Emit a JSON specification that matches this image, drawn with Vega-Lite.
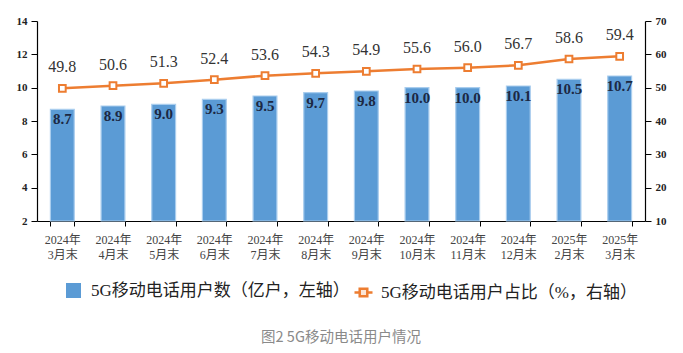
{
  "$schema": "https://vega.github.io/schema/vega-lite/v6.json",
  "width": 608,
  "height": 200,
  "autosize": "none",
  "padding": {"left": 37, "top": 21, "right": 38, "bottom": 132},
  "background": "white",
  "title": {
    "text": "图2 5G移动电话用户情况",
    "orient": "bottom",
    "anchor": "middle",
    "offset": 29,
    "baseline": "top",
    "font": "Noto Sans CJK SC",
    "fontSize": 14.5,
    "fontWeight": "normal",
    "color": "#8a8a8a"
  },
  "config": {
    "view": {"stroke": null},
    "axis": {"grid": false, "domainColor": "#000000", "tickColor": "#000000", "domainWidth": 1.2, "tickSize": 6}
  },
  "data": {
    "values": [
      {"m": "2024年|3月末", "users": 8.7, "pct": 49.8},
      {"m": "2024年|4月末", "users": 8.9, "pct": 50.6},
      {"m": "2024年|5月末", "users": 9.0, "pct": 51.3},
      {"m": "2024年|6月末", "users": 9.3, "pct": 52.4},
      {"m": "2024年|7月末", "users": 9.5, "pct": 53.6},
      {"m": "2024年|8月末", "users": 9.7, "pct": 54.3},
      {"m": "2024年|9月末", "users": 9.8, "pct": 54.9},
      {"m": "2024年|10月末", "users": 10.0, "pct": 55.6},
      {"m": "2024年|11月末", "users": 10.0, "pct": 56.0},
      {"m": "2024年|12月末", "users": 10.1, "pct": 56.7},
      {"m": "2025年|2月末", "users": 10.5, "pct": 58.6},
      {"m": "2025年|3月末", "users": 10.7, "pct": 59.4}
    ]
  },
  "encoding": {
    "x": {
      "field": "m",
      "type": "nominal",
      "sort": null,
      "title": null,
      "scale": {"paddingInner": 0.53, "paddingOuter": 0.265},
      "axis": {
        "labelExpr": "isValid(datum.value) ? split(datum.value, '|') : ''",
        "labelAngle": 0,
        "tickBand": "extent",
        "tickSize": 5,
        "labelPadding": 8,
        "labelFont": "Liberation Serif, Noto Sans CJK SC",
        "labelFontSize": 12,
        "labelColor": "#444444",
        "labelLineHeight": 15,
        "labelBaseline": "top"
      }
    }
  },
  "layer": [
    {
      "encoding": {
        "y": {
          "field": "users",
          "type": "quantitative",
          "title": null,
          "scale": {"domain": [2, 14], "nice": false, "zero": false},
          "axis": {
            "orient": "left",
            "values": [2, 4, 6, 8, 10, 12, 14],
            "labelFont": "Liberation Serif",
            "labelFontWeight": "bold",
            "labelFontSize": 11,
            "labelColor": "#222222",
            "labelPadding": 4
          }
        }
      },
      "layer": [
        {
          "mark": {"type": "bar", "stroke": "#a9cdee", "strokeWidth": 1.2},
          "encoding": {
            "y2": {"datum": 2},
            "color": {
              "datum": "5G移动电话用户数（亿户，左轴）",
              "scale": {"range": ["#5b9bd5"]},
              "legend": {
                "orient": "none",
                "legendX": 28,
                "legendY": 261,
                "title": null,
                "padding": 0,
                "symbolType": "square",
                "symbolSize": 225,
                "symbolStrokeWidth": 0,
                "labelFont": "Liberation Serif, Noto Sans CJK SC",
                "labelFontSize": 17,
                "labelColor": "#222222",
                "labelOffset": 9,
                "labelLimit": 400
              }
            }
          }
        },
        {
          "mark": {
            "type": "text",
            "baseline": "middle",
            "dy": 10,
            "font": "Liberation Serif",
            "fontWeight": "bold",
            "fontSize": 15,
            "color": "#1c2843"
          },
          "encoding": {"text": {"field": "users", "type": "quantitative", "format": ".1f"}}
        }
      ]
    },
    {
      "encoding": {
        "y": {
          "field": "pct",
          "type": "quantitative",
          "title": null,
          "scale": {"domain": [10, 70], "nice": false, "zero": false},
          "axis": {
            "orient": "right",
            "values": [10, 20, 30, 40, 50, 60, 70],
            "labelFont": "Liberation Serif",
            "labelFontWeight": "bold",
            "labelFontSize": 11,
            "labelColor": "#222222",
            "labelPadding": 4
          }
        }
      },
      "layer": [
        {
          "mark": {"type": "line", "strokeWidth": 2.5},
          "encoding": {
            "stroke": {
              "datum": "5G移动电话用户占比（%，右轴）",
              "scale": {"range": ["#ed7d31"]},
              "legend": {
                "orient": "none",
                "legendX": 316,
                "legendY": 261,
                "title": null,
                "padding": 0,
                "symbolType": "M-1,0L-0.42,0M0.42,0L1,0M-0.42,-0.42L0.42,-0.42L0.42,0.42L-0.42,0.42Z",
                "symbolSize": 324,
                "symbolStrokeWidth": 2.5,
                "symbolFillColor": "#fbe5d6",
                "labelFont": "Liberation Serif, Noto Sans CJK SC",
                "labelFontSize": 17,
                "labelColor": "#222222",
                "labelOffset": 7,
                "labelLimit": 400
              }
            }
          }
        },
        {
          "mark": {"type": "point", "shape": "square", "size": 45, "filled": false, "fill": "#ffffff", "stroke": "#ed7d31", "strokeWidth": 2, "opacity": 1}
        },
        {
          "mark": {
            "type": "text",
            "baseline": "middle",
            "dy": -21,
            "font": "Liberation Serif",
            "fontSize": 16,
            "color": "#333333"
          },
          "encoding": {"text": {"field": "pct", "type": "quantitative", "format": ".1f"}}
        }
      ]
    }
  ],
  "resolve": {"scale": {"y": "independent"}}
}
